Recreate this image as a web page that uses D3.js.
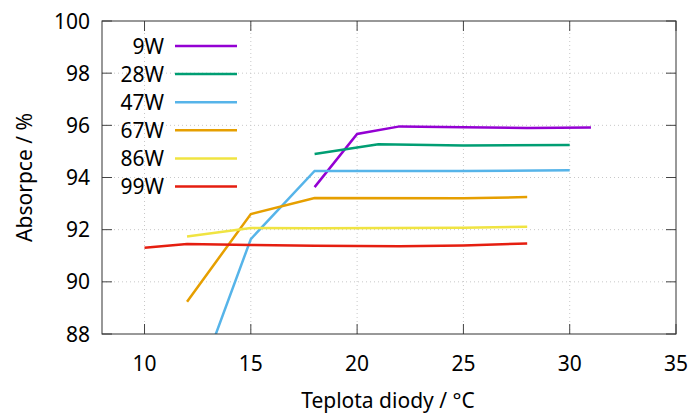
<!DOCTYPE html>
<html>
<head>
<meta charset="utf-8">
<script src="https://cdn.jsdelivr.net/npm/d3@7"></script>
<style>
  body { margin: 0; background: #fff; }
  text { font-family: "Noto Sans", "DejaVu Sans", sans-serif; fill: #000; }
</style>
</head>
<body>
<div id="chart"></div>
<script>
const seriesNames = ["9W", "28W", "47W", "67W", "86W", "99W"];
const seriesColors = ["#9400d3", "#009e73", "#56b4e9", "#e69f00", "#f0e442", "#e51e10"];

// temperature (x) and absorption (y) for each series
const temps9W = [18, 20, 22, 25, 28, 31];
const values9W = [93.63, 95.67, 95.96, 95.93, 95.9, 95.92];
const temps28W = [18, 21, 25, 30];
const values28W = [94.9, 95.27, 95.23, 95.25];
const temps47W = [12, 15, 18, 25, 30];
const values47W = [85.0, 91.64, 94.25, 94.25, 94.28];
const temps67W = [12, 15, 18, 25, 28];
const values67W = [89.24, 92.6, 93.21, 93.2, 93.25];
const temps86W = [12, 15, 18, 25, 28];
const values86W = [91.74, 92.06, 92.05, 92.07, 92.11];
const temps99W = [10, 12, 15, 18, 22, 25, 28];
const values99W = [91.31, 91.45, 91.41, 91.38, 91.36, 91.39, 91.47];

const xTicks = [10, 15, 20, 25, 30, 35];
const yTicks = [88, 90, 92, 94, 96, 98, 100];

const allTemps = [temps9W, temps28W, temps47W, temps67W, temps86W, temps99W];
const allValues = [values9W, values28W, values47W, values67W, values86W, values99W];

function drawChart() {
    const width = 692;
    const height = 417;
    const margin = { left: 102, right: 16, top: 21, bottom: 83 };
    const fontSize = 21;

    const svg = d3.select("#chart")
        .append("svg")
        .attr("width", width)
        .attr("height", height);

    const x = d3.scaleLinear()
        .domain([8, 35])
        .range([margin.left, width - margin.right]);

    const y = d3.scaleLinear()
        .domain([88, 100])
        .range([height - margin.bottom, margin.top]);

    const x0 = x.range()[0], x1 = x.range()[1];
    const y0 = y.range()[0], y1 = y.range()[1];

    // dotted grid
    svg.append("g").selectAll("line")
        .data(xTicks.filter(t => t < 35))
        .enter().append("line")
        .attr("x1", d => x(d)).attr("x2", d => x(d))
        .attr("y1", y0).attr("y2", y1)
        .attr("stroke", "#c8c8c8").attr("stroke-dasharray", "1,3");
    svg.append("g").selectAll("line")
        .data(yTicks.filter(t => t > 88 && t < 100))
        .enter().append("line")
        .attr("x1", x0).attr("x2", x1)
        .attr("y1", d => y(d)).attr("y2", d => y(d))
        .attr("stroke", "#c8c8c8").attr("stroke-dasharray", "1,3");

    // inward ticks on all four sides
    const tickLen = 10;
    const ticks = svg.append("g").attr("stroke", "#444").attr("stroke-width", 1);
    xTicks.forEach(t => {
        ticks.append("line").attr("x1", x(t)).attr("x2", x(t)).attr("y1", y0).attr("y2", y0 - tickLen);
        ticks.append("line").attr("x1", x(t)).attr("x2", x(t)).attr("y1", y1).attr("y2", y1 + tickLen);
    });
    yTicks.forEach(t => {
        ticks.append("line").attr("x1", x0).attr("x2", x0 + tickLen).attr("y1", y(t)).attr("y2", y(t));
        ticks.append("line").attr("x1", x1).attr("x2", x1 - tickLen).attr("y1", y(t)).attr("y2", y(t));
    });

    // tick labels
    svg.append("g").selectAll("text")
        .data(xTicks)
        .enter().append("text")
        .attr("x", d => x(d))
        .attr("y", y0 + 29)
        .attr("dy", "0.36em")
        .attr("text-anchor", "middle")
        .attr("font-size", fontSize)
        .text(d => d);
    svg.append("g").selectAll("text")
        .data(yTicks)
        .enter().append("text")
        .attr("x", x0 - 12)
        .attr("y", d => y(d))
        .attr("dy", "0.36em")
        .attr("text-anchor", "end")
        .attr("font-size", fontSize)
        .text(d => d);

    // clip for the lines
    svg.append("clipPath").attr("id", "plotClip")
        .append("rect")
        .attr("x", x0).attr("y", y1)
        .attr("width", x1 - x0).attr("height", y0 - y1);

    const line = d3.line()
        .x(d => x(d[0]))
        .y(d => y(d[1]));

    const lines = svg.append("g").attr("clip-path", "url(#plotClip)");
    seriesNames.forEach((name, i) => {
        const pts = allTemps[i].map((t, j) => [t, allValues[i][j]]);
        lines.append("path")
            .datum(pts)
            .attr("d", line)
            .attr("fill", "none")
            .attr("stroke", seriesColors[i])
            .attr("stroke-width", 2.5)
            .attr("stroke-linejoin", "miter");
    });

    // border
    svg.append("rect")
        .attr("x", x0).attr("y", y1)
        .attr("width", x1 - x0).attr("height", y0 - y1)
        .attr("fill", "none")
        .attr("stroke", "#333")
        .attr("stroke-width", 1);

    // legend
    const legend = svg.append("g");
    seriesNames.forEach((name, i) => {
        const ly = 46 + i * 28.1;
        legend.append("text")
            .attr("x", 164)
            .attr("y", ly)
            .attr("dy", "0.36em")
            .attr("text-anchor", "end")
            .attr("font-size", fontSize)
            .text(name);
        legend.append("line")
            .attr("x1", 175).attr("x2", 237)
            .attr("y1", ly).attr("y2", ly)
            .attr("stroke", seriesColors[i])
            .attr("stroke-width", 2.5);
    });

    // axis titles
    svg.append("text")
        .attr("x", 388)
        .attr("y", 400)
        .attr("dy", "0.36em")
        .attr("text-anchor", "middle")
        .attr("font-size", fontSize)
        .text("Teplota diody / \u00b0C");

    svg.append("text")
        .attr("transform", `translate(24, ${(y0 + y1) / 2}) rotate(-90)`)
        .attr("dy", "0.36em")
        .attr("text-anchor", "middle")
        .attr("font-size", fontSize)
        .text("Absorpce / %");
}

drawChart();
</script>
</body>
</html>
